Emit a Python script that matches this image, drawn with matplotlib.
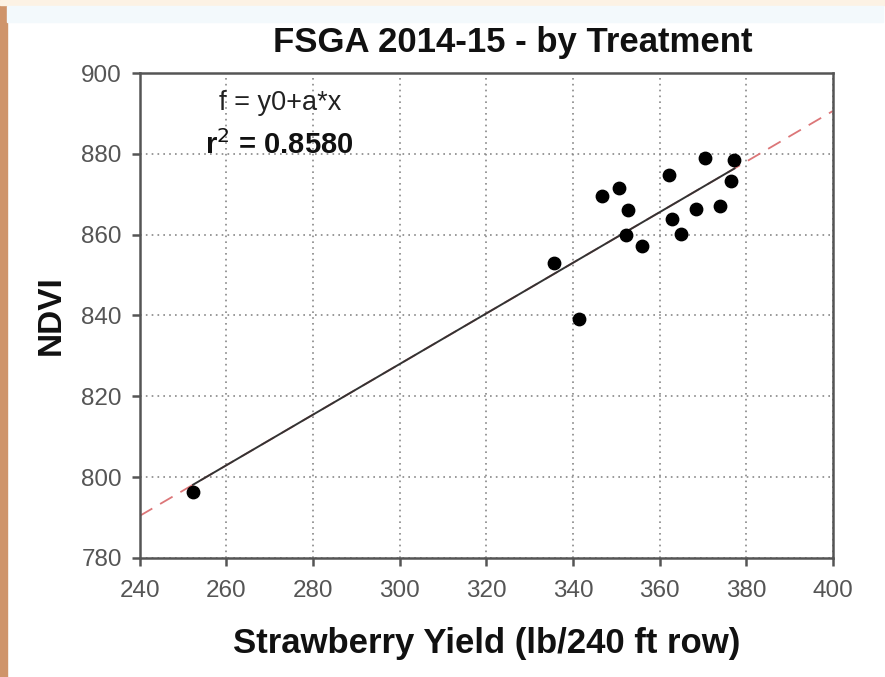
import numpy as np
import matplotlib.pyplot as plt
from matplotlib.patches import Rectangle

plt.rcParams['font.family'] = ['Liberation Sans', 'DejaVu Sans']

# yield (lb/240 ft row) and NDVI per treatment
yield_lb = [370.4, 377.3, 362.2, 376.6, 350.6, 346.6, 373.9, 352.7,
            368.5, 362.8, 352.3, 364.9, 355.9, 335.6, 341.3, 252.3]
ndvi = [879.0, 878.6, 874.7, 873.3, 871.5, 869.7, 867.1, 866.1,
        866.4, 863.9, 860.0, 860.2, 857.1, 853.0, 839.2, 796.4]

xticks = [240, 260, 280, 300, 320, 340, 360, 380, 400]
yticks = [780, 800, 820, 840, 860, 880, 900]

x = np.array(yield_lb)
y = np.array(ndvi)
a, y0 = np.polyfit(x, y, 1)

fig = plt.figure(figsize=(8.85, 6.77), dpi=100)

# page decoration bits around the picture
fig.patches.append(Rectangle((0, 0), 0.008, 1, transform=fig.transFigure,
                             color='#cf946a', zorder=0))
fig.patches.append(Rectangle((0, 0.992), 1, 0.008, transform=fig.transFigure,
                             color='#fcf2e4', zorder=0))
fig.patches.append(Rectangle((0.008, 0.967), 0.99, 0.024, transform=fig.transFigure,
                             color='#f3f9fc', zorder=0))

ax = fig.add_axes([0.158, 0.176, 0.783, 0.716])

xl = np.array([240, 400])
ax.plot(xl, y0 + a * xl, color='#dc7678', lw=1.3, dashes=(8, 5), zorder=2)
xd = np.array([x.min(), x.max()])
ax.plot(xd, y0 + a * xd, color='#333333', lw=1.4, zorder=3)
ax.scatter(x, y, s=80, color='black', zorder=4)

ax.set_xlim(240, 400)
ax.set_ylim(780, 900)
ax.set_xticks(xticks)
ax.set_yticks(yticks)
ax.grid(True, color='#888888', ls=(0, (1, 2.5)), lw=1.2)
ax.set_axisbelow(True)

for s in ax.spines.values():
    s.set_color('#555555')
    s.set_linewidth(1.8)
ax.tick_params(direction='out', length=6, width=1.8, color='#555555',
               labelsize=17.5, labelcolor='#555555')
ax.tick_params(axis='x', pad=10)
ax.tick_params(axis='y', pad=7)

ax.set_xlabel('Strawberry Yield (lb/240 ft row)', fontsize=25,
              fontweight='bold', labelpad=18, color='#111111')
ax.set_ylabel('NDVI', fontsize=24, fontweight='bold', labelpad=10,
              color='#111111')
fig.text(0.579, 0.937, 'FSGA 2014-15 - by Treatment', fontsize=25,
         fontweight='bold', ha='center', va='center', color='#111111')

ax.text(272.5, 892.7, 'f = y0+a*x', fontsize=19.5, ha='center', va='center',
        color='#222222')
ax.text(272.3, 880.0, 'r$^2$ = 0.8580', fontsize=21, fontweight='bold',
        ha='center', va='baseline', color='#111111')

fig.savefig('out.png', dpi=100)
